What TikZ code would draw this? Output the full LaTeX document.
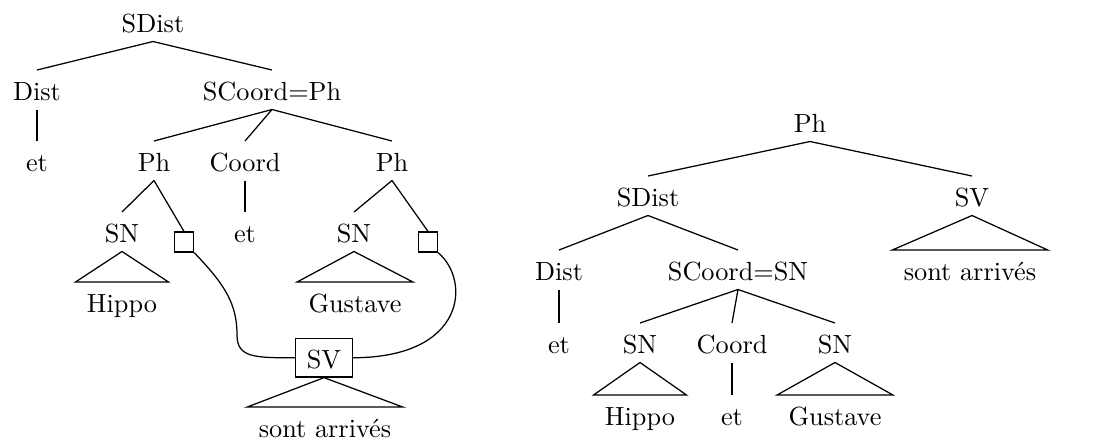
\documentclass[tikz,border=0pt]{standalone}
\usepackage{fontspec}
\usetikzlibrary{calc}

\begin{document}
\begin{tikzpicture}[x=0.4pt, y=-0.4pt,
		cat/.style={anchor=base, inner xsep=4.4pt, inner ysep=3.6pt, text height=8.2pt, text depth=0pt, font=\fontsize{10.5}{12}\selectfont},
		gapbox/.style={draw, line width=0.5pt, minimum width=7.6pt, minimum height=8pt, inner sep=0pt},
		catbox/.style={cat, draw, line width=0.5pt},
		branch/.style={line width=0.5pt}]
		\useasboundingbox (0,0) rectangle (1098,441);
		
		\def\rowA{32}  % left tree, root
		\def\rowB{100}
		\def\rowC{171}
		\def\rowD{242}
		\def\rowE{312}
		\def\rowF{368} % shared SV
		\def\rowG{437}
		
		% ---- left tree: distributed coordination of Ph
		\node[cat] (sdistA)  at (153,\rowA) {SDist};
		\node[cat] (distA)   at (37,\rowB)  {Dist};
		\node[cat] (scoordA) at (272,\rowB) {SCoord=Ph};
		\node[cat] (etA)     at (37,\rowC)  {et};
		\node[cat] (phA)     at (154,\rowC) {Ph};
		\node[cat] (coordA)  at (245,\rowC) {Coord};
		\node[cat] (phB)     at (392,\rowC) {Ph};
		\node[cat] (snA)     at (122,\rowD) {SN};
		\node[gapbox] (gapA) at (184,242) {};
		\node[cat] (etB)     at (245,\rowD) {et};
		\node[cat] (snB)     at (354,\rowD) {SN};
		\node[gapbox] (gapB) at (428,242) {};
		\node[cat] (hippoA)  at (122,\rowE) {Hippo};
		\node[cat] (gustA)   at (355,\rowE) {Gustave};
		\node[catbox] (svA)  at (324,\rowF) {SV};
		\node[cat] (arrA)    at (325,\rowG) {sont arrivés};
		
		\draw[branch] (sdistA.south) -- (distA.north);
		\draw[branch] (sdistA.south) -- (scoordA.north);
		\draw[branch] (distA.south) -- (etA.north);
		\draw[branch] (scoordA.south) -- (phA.north);
		\draw[branch] (scoordA.south) -- (coordA.north);
		\draw[branch] (scoordA.south) -- (phB.north);
		\draw[branch] (coordA.south) -- (etB.north);
		\draw[branch] (phA.south) -- (snA.north);
		\draw[branch] (phA.south) -- (gapA.north);
		\draw[branch] (phB.south) -- (snB.north);
		\draw[branch] (phB.south) -- (gapB.north);
		
		% triangles
		\draw[branch] (snA.south) -- (hippoA.north west) -- (hippoA.north east) -- cycle;
		\draw[branch] (snB.south) -- (gustA.north west) -- (gustA.north east) -- cycle;
		\draw[branch] (svA.south) -- (arrA.north west) -- (arrA.north east) -- cycle;
		
		% links from the gaps to the shared SV
		\coordinate (bendA) at (237,335);
		\draw[branch] (gapA.south east) .. controls +(32,33) and +(0,-30) .. (bendA)
			.. controls +(0,23) and +(-40,0) .. (svA.west);
		\draw[branch] (gapB.south east) .. controls +(33,28) and +(113,0) .. (svA.east);
		
		% ---- right tree: coordination of SN
		\node[cat] (phR)     at (810,132) {Ph};
		\node[cat] (sdistR)  at (648,206) {SDist};
		\node[cat] (svR)     at (972,206) {SV};
		\node[cat] (distR)   at (559,280) {Dist};
		\node[cat] (scoordR) at (738,280) {SCoord=SN};
		\node[cat] (arrR)    at (970,280) {sont arrivés};
		\node[cat] (etR)     at (559,353) {et};
		\node[cat] (snR)     at (640,353) {SN};
		\node[cat] (coordR)  at (732,353) {Coord};
		\node[cat] (snS)     at (835,353) {SN};
		\node[cat] (hippoR)  at (640,425) {Hippo};
		\node[cat] (etS)     at (732,425) {et};
		\node[cat] (gustR)   at (835,425) {Gustave};
		
		\draw[branch] (phR.south) -- (sdistR.north);
		\draw[branch] (phR.south) -- (svR.north);
		\draw[branch] (sdistR.south) -- (distR.north);
		\draw[branch] (sdistR.south) -- (scoordR.north);
		\draw[branch] (distR.south) -- (etR.north);
		\draw[branch] (scoordR.south) -- (snR.north);
		\draw[branch] (scoordR.south) -- (coordR.north);
		\draw[branch] (scoordR.south) -- (snS.north);
		\draw[branch] (coordR.south) -- (etS.north);
		
		\draw[branch] (svR.south) -- (arrR.north west) -- (arrR.north east) -- cycle;
		\draw[branch] (snR.south) -- (hippoR.north west) -- (hippoR.north east) -- cycle;
		\draw[branch] (snS.south) -- (gustR.north west) -- (gustR.north east) -- cycle;
		
	\end{tikzpicture}
\end{document}
